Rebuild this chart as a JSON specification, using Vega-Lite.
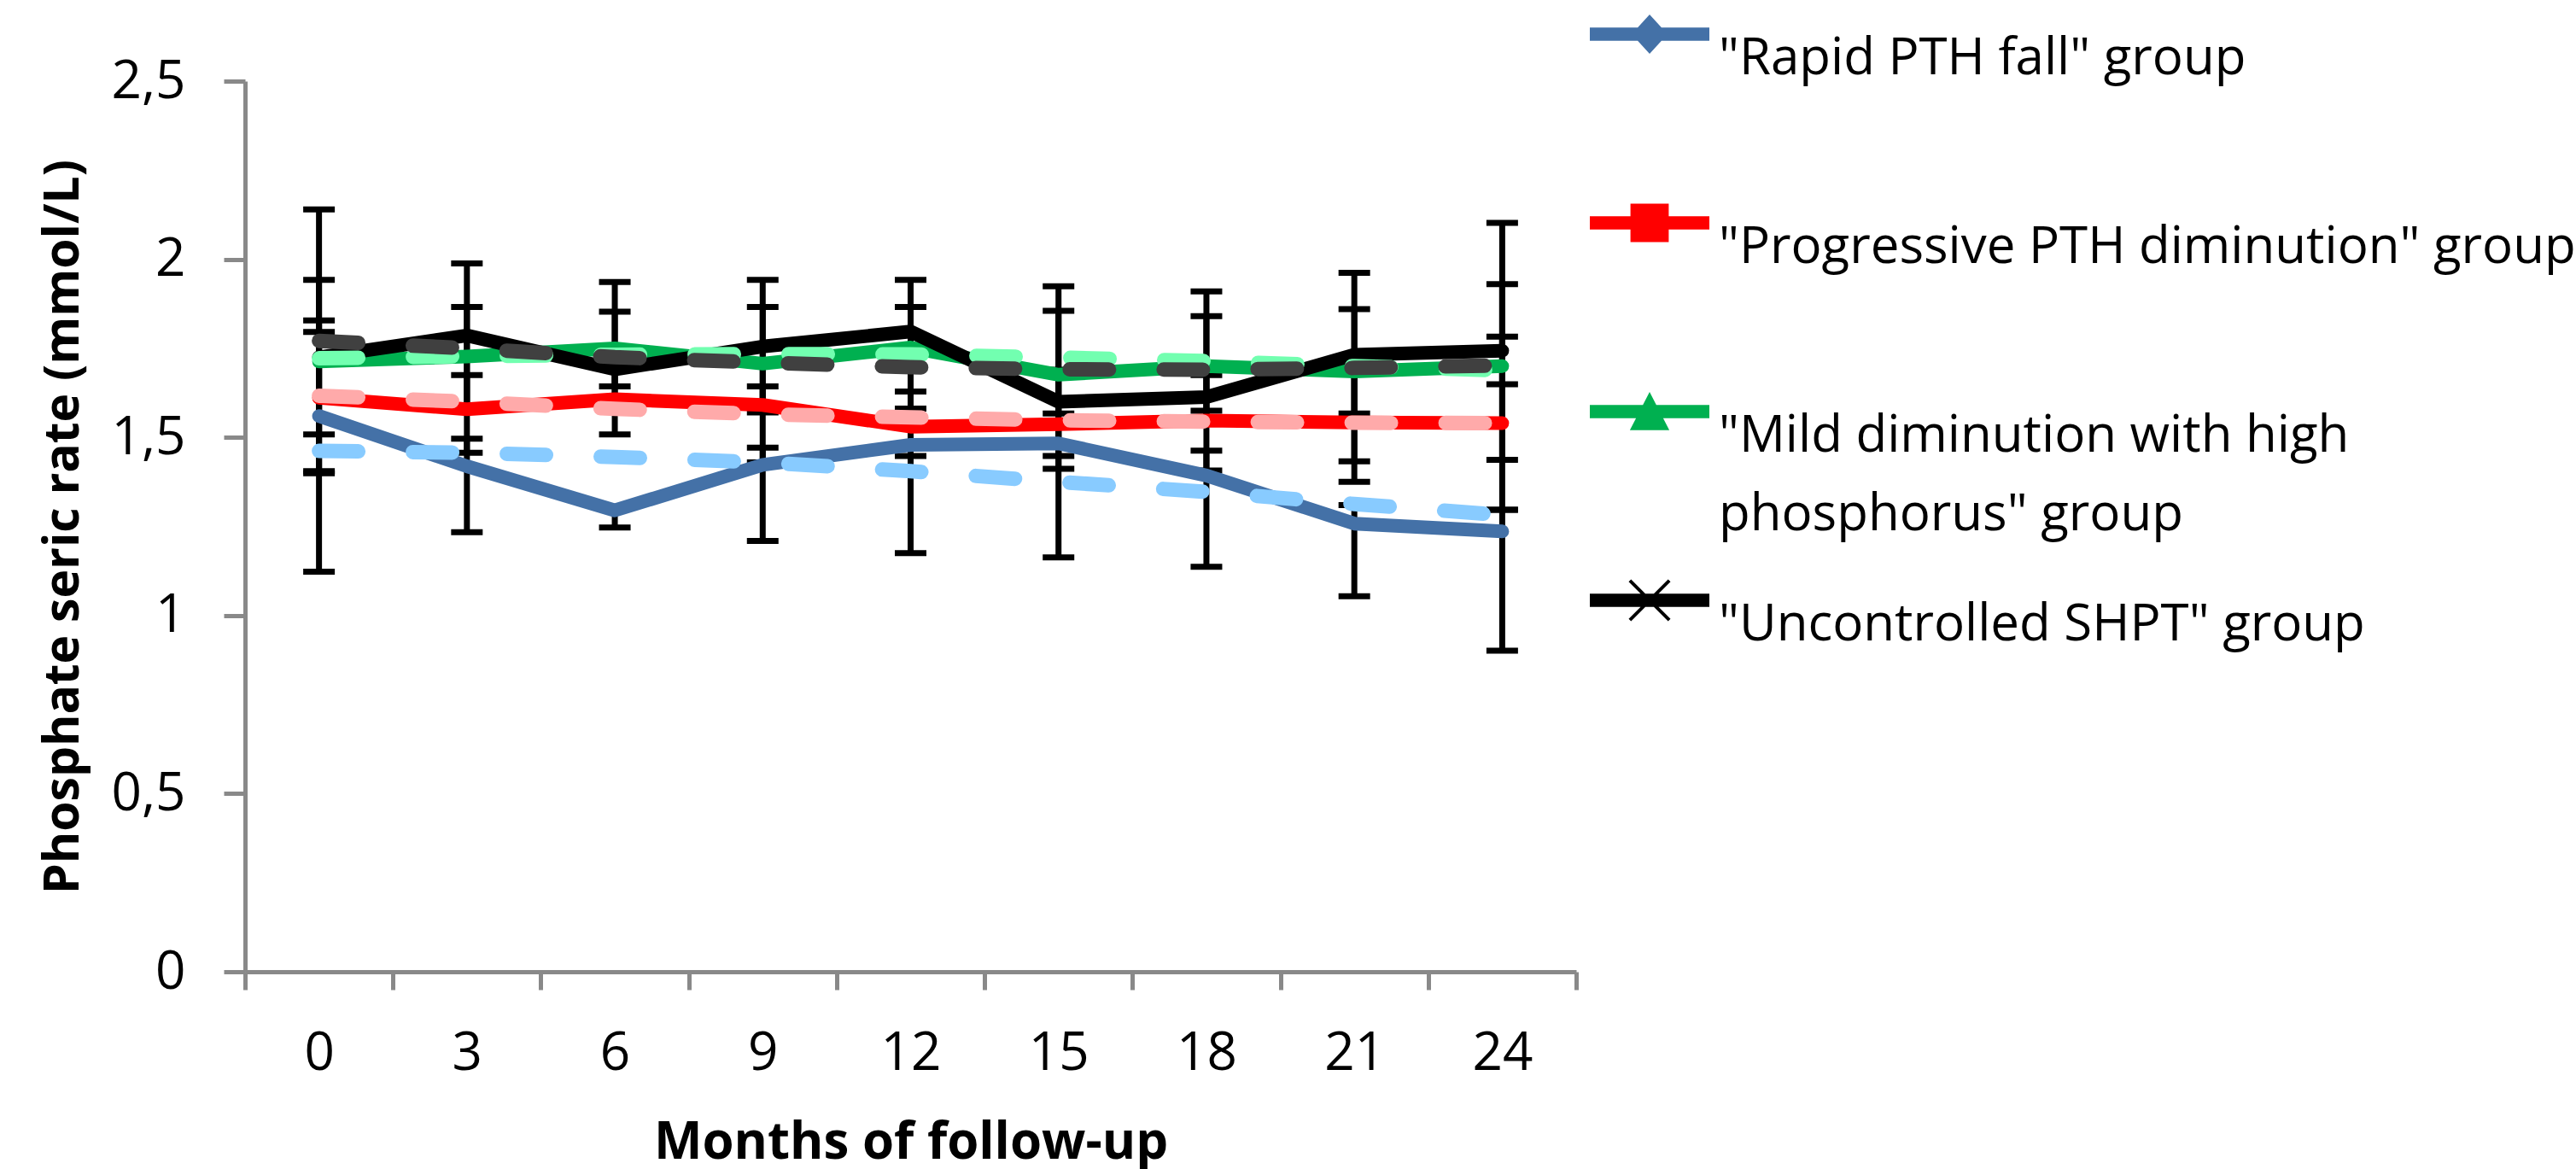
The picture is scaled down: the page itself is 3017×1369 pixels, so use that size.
{
  "$schema": "https://vega.github.io/schema/vega-lite/v6.json",
  "autosize": {"type": "none"},
  "padding": {"left": 287, "top": 95, "right": 1171, "bottom": 231},
  "width": 1559,
  "height": 1043,
  "background": "white",
  "config": {"font": "Open Sans", "view": {"stroke": null}, "style": {"guide-label": {"lineHeight": 92}}},
  "datasets": {
    "means": [
      {"month": 0, "group": "Rapid PTH fall", "value": 1.56},
      {"month": 3, "group": "Rapid PTH fall", "value": 1.419},
      {"month": 6, "group": "Rapid PTH fall", "value": 1.295},
      {"month": 9, "group": "Rapid PTH fall", "value": 1.423},
      {"month": 12, "group": "Rapid PTH fall", "value": 1.479},
      {"month": 15, "group": "Rapid PTH fall", "value": 1.483},
      {"month": 18, "group": "Rapid PTH fall", "value": 1.393},
      {"month": 21, "group": "Rapid PTH fall", "value": 1.258},
      {"month": 24, "group": "Rapid PTH fall", "value": 1.236},
      {"month": 0, "group": "Progressive PTH diminution", "value": 1.611},
      {"month": 3, "group": "Progressive PTH diminution", "value": 1.579},
      {"month": 6, "group": "Progressive PTH diminution", "value": 1.607},
      {"month": 9, "group": "Progressive PTH diminution", "value": 1.591},
      {"month": 12, "group": "Progressive PTH diminution", "value": 1.53},
      {"month": 15, "group": "Progressive PTH diminution", "value": 1.537},
      {"month": 18, "group": "Progressive PTH diminution", "value": 1.547},
      {"month": 21, "group": "Progressive PTH diminution", "value": 1.542},
      {"month": 24, "group": "Progressive PTH diminution", "value": 1.54},
      {"month": 0, "group": "Mild diminution with high phosphorus", "value": 1.713},
      {"month": 3, "group": "Mild diminution with high phosphorus", "value": 1.727},
      {"month": 6, "group": "Mild diminution with high phosphorus", "value": 1.75},
      {"month": 9, "group": "Mild diminution with high phosphorus", "value": 1.707},
      {"month": 12, "group": "Mild diminution with high phosphorus", "value": 1.752},
      {"month": 15, "group": "Mild diminution with high phosphorus", "value": 1.676},
      {"month": 18, "group": "Mild diminution with high phosphorus", "value": 1.7},
      {"month": 21, "group": "Mild diminution with high phosphorus", "value": 1.685},
      {"month": 24, "group": "Mild diminution with high phosphorus", "value": 1.7},
      {"month": 0, "group": "Uncontrolled SHPT", "value": 1.725},
      {"month": 3, "group": "Uncontrolled SHPT", "value": 1.786},
      {"month": 6, "group": "Uncontrolled SHPT", "value": 1.691},
      {"month": 9, "group": "Uncontrolled SHPT", "value": 1.755},
      {"month": 12, "group": "Uncontrolled SHPT", "value": 1.797},
      {"month": 15, "group": "Uncontrolled SHPT", "value": 1.6},
      {"month": 18, "group": "Uncontrolled SHPT", "value": 1.613},
      {"month": 21, "group": "Uncontrolled SHPT", "value": 1.732},
      {"month": 24, "group": "Uncontrolled SHPT", "value": 1.743}
    ],
    "trend": [
      {"month": 0, "group": "Rapid PTH fall", "value": 1.462},
      {"month": 3, "group": "Rapid PTH fall", "value": 1.457},
      {"month": 6, "group": "Rapid PTH fall", "value": 1.445},
      {"month": 9, "group": "Rapid PTH fall", "value": 1.43},
      {"month": 12, "group": "Rapid PTH fall", "value": 1.405},
      {"month": 15, "group": "Rapid PTH fall", "value": 1.375},
      {"month": 18, "group": "Rapid PTH fall", "value": 1.347},
      {"month": 21, "group": "Rapid PTH fall", "value": 1.313},
      {"month": 24, "group": "Rapid PTH fall", "value": 1.282},
      {"month": 0, "group": "Progressive PTH diminution", "value": 1.617},
      {"month": 3, "group": "Progressive PTH diminution", "value": 1.6},
      {"month": 6, "group": "Progressive PTH diminution", "value": 1.58},
      {"month": 9, "group": "Progressive PTH diminution", "value": 1.565},
      {"month": 12, "group": "Progressive PTH diminution", "value": 1.556},
      {"month": 15, "group": "Progressive PTH diminution", "value": 1.548},
      {"month": 18, "group": "Progressive PTH diminution", "value": 1.544},
      {"month": 21, "group": "Progressive PTH diminution", "value": 1.541},
      {"month": 24, "group": "Progressive PTH diminution", "value": 1.54},
      {"month": 0, "group": "Mild diminution with high phosphorus", "value": 1.722},
      {"month": 3, "group": "Mild diminution with high phosphorus", "value": 1.728},
      {"month": 6, "group": "Mild diminution with high phosphorus", "value": 1.732},
      {"month": 9, "group": "Mild diminution with high phosphorus", "value": 1.734},
      {"month": 12, "group": "Mild diminution with high phosphorus", "value": 1.733},
      {"month": 15, "group": "Mild diminution with high phosphorus", "value": 1.724},
      {"month": 18, "group": "Mild diminution with high phosphorus", "value": 1.714},
      {"month": 21, "group": "Mild diminution with high phosphorus", "value": 1.7},
      {"month": 24, "group": "Mild diminution with high phosphorus", "value": 1.688},
      {"month": 0, "group": "Uncontrolled SHPT", "value": 1.771},
      {"month": 3, "group": "Uncontrolled SHPT", "value": 1.75},
      {"month": 6, "group": "Uncontrolled SHPT", "value": 1.725},
      {"month": 9, "group": "Uncontrolled SHPT", "value": 1.71},
      {"month": 12, "group": "Uncontrolled SHPT", "value": 1.697},
      {"month": 15, "group": "Uncontrolled SHPT", "value": 1.691},
      {"month": 18, "group": "Uncontrolled SHPT", "value": 1.69},
      {"month": 21, "group": "Uncontrolled SHPT", "value": 1.695},
      {"month": 24, "group": "Uncontrolled SHPT", "value": 1.702}
    ],
    "err": [
      {"month": 0, "group": "Rapid PTH fall", "lo": 1.123, "hi": 1.796},
      {"month": 0, "group": "Progressive PTH diminution", "lo": 1.399, "hi": 1.828},
      {"month": 0, "group": "Mild diminution with high phosphorus", "lo": 1.508, "hi": 1.942},
      {"month": 0, "group": "Uncontrolled SHPT", "lo": 1.405, "hi": 2.14},
      {"month": 3, "group": "Rapid PTH fall", "lo": 1.234, "hi": 1.496},
      {"month": 3, "group": "Progressive PTH diminution", "lo": 1.457, "hi": 1.675},
      {"month": 3, "group": "Mild diminution with high phosphorus", "lo": 1.59, "hi": 1.866},
      {"month": 3, "group": "Uncontrolled SHPT", "lo": 1.58, "hi": 1.988},
      {"month": 6, "group": "Rapid PTH fall", "lo": 1.247, "hi": 1.3},
      {"month": 6, "group": "Progressive PTH diminution", "lo": 1.508, "hi": 1.7},
      {"month": 6, "group": "Mild diminution with high phosphorus", "lo": 1.6, "hi": 1.936},
      {"month": 6, "group": "Uncontrolled SHPT", "lo": 1.643, "hi": 1.853},
      {"month": 9, "group": "Rapid PTH fall", "lo": 1.209, "hi": 1.471},
      {"month": 9, "group": "Progressive PTH diminution", "lo": 1.43, "hi": 1.643},
      {"month": 9, "group": "Mild diminution with high phosphorus", "lo": 1.59, "hi": 1.866},
      {"month": 9, "group": "Uncontrolled SHPT", "lo": 1.57, "hi": 1.942},
      {"month": 12, "group": "Rapid PTH fall", "lo": 1.175, "hi": 1.53},
      {"month": 12, "group": "Progressive PTH diminution", "lo": 1.448, "hi": 1.629},
      {"month": 12, "group": "Mild diminution with high phosphorus", "lo": 1.581, "hi": 1.866},
      {"month": 12, "group": "Uncontrolled SHPT", "lo": 1.7, "hi": 1.942},
      {"month": 15, "group": "Rapid PTH fall", "lo": 1.163, "hi": 1.54},
      {"month": 15, "group": "Progressive PTH diminution", "lo": 1.412, "hi": 1.69},
      {"month": 15, "group": "Mild diminution with high phosphorus", "lo": 1.448, "hi": 1.855},
      {"month": 15, "group": "Uncontrolled SHPT", "lo": 1.567, "hi": 1.924},
      {"month": 18, "group": "Rapid PTH fall", "lo": 1.137, "hi": 1.463},
      {"month": 18, "group": "Progressive PTH diminution", "lo": 1.407, "hi": 1.675},
      {"month": 18, "group": "Mild diminution with high phosphorus", "lo": 1.575, "hi": 1.84},
      {"month": 18, "group": "Uncontrolled SHPT", "lo": 1.55, "hi": 1.91},
      {"month": 21, "group": "Rapid PTH fall", "lo": 1.054, "hi": 1.31},
      {"month": 21, "group": "Progressive PTH diminution", "lo": 1.375, "hi": 1.7},
      {"month": 21, "group": "Mild diminution with high phosphorus", "lo": 1.433, "hi": 1.86},
      {"month": 21, "group": "Uncontrolled SHPT", "lo": 1.567, "hi": 1.962},
      {"month": 24, "group": "Rapid PTH fall", "lo": 0.901, "hi": 1.297},
      {"month": 24, "group": "Progressive PTH diminution", "lo": 1.297, "hi": 1.783},
      {"month": 24, "group": "Mild diminution with high phosphorus", "lo": 1.437, "hi": 1.93},
      {"month": 24, "group": "Uncontrolled SHPT", "lo": 1.649, "hi": 2.102}
    ]
  },
  "encoding": {
    "x": {
      "field": "month",
      "type": "ordinal",
      "scale": {"type": "band", "domain": [0, 3, 6, 9, 12, 15, 18, 21, 24], "paddingInner": 0, "paddingOuter": 0},
      "axis": {
        "title": "Months of follow-up",
        "labelAngle": 0,
        "tickBand": "extent",
        "tickSize": 21,
        "tickWidth": 5,
        "tickColor": "#898989",
        "domainColor": "#898989",
        "domainWidth": 5,
        "labelFontSize": 62,
        "labelColor": "#000000",
        "labelPadding": 44,
        "titleFontSize": 60,
        "titleFontWeight": "bold",
        "titleColor": "#000000",
        "titlePadding": 45,
        "grid": false
      }
    }
  },
  "layer": [
    {
      "data": {"name": "err"},
      "mark": {"type": "rule", "color": "#000000", "strokeWidth": 7},
      "encoding": {
        "y": {
          "field": "lo",
          "type": "quantitative",
          "scale": {"domain": [0, 2.5], "nice": false},
          "axis": {
            "title": "Phosphate seric rate (mmol/L)",
            "values": [0, 0.5, 1, 1.5, 2, 2.5],
            "labelExpr": "replace(format(datum.value, '.1~f'), '.', ',')",
            "tickSize": 25,
            "tickWidth": 5,
            "tickColor": "#898989",
            "domainColor": "#898989",
            "domainWidth": 5,
            "labelFontSize": 62,
            "labelColor": "#000000",
            "labelPadding": 45,
            "titleFontSize": 57,
            "titleFontWeight": "bold",
            "titleColor": "#000000",
            "titlePadding": 27,
            "grid": false
          }
        },
        "y2": {"field": "hi"}
      }
    },
    {
      "data": {"name": "err"},
      "mark": {"type": "tick", "color": "#000000", "thickness": 7, "size": 37, "opacity": 1},
      "encoding": {"y": {"field": "lo", "type": "quantitative"}}
    },
    {
      "data": {"name": "err"},
      "mark": {"type": "tick", "color": "#000000", "thickness": 7, "size": 37, "opacity": 1},
      "encoding": {"y": {"field": "hi", "type": "quantitative"}}
    },
    {
      "data": {"name": "means"},
      "mark": {"type": "line", "strokeWidth": 16, "strokeJoin": "round", "strokeCap": "round"},
      "encoding": {
        "y": {"field": "value", "type": "quantitative"},
        "stroke": {
          "field": "group",
          "type": "nominal",
          "scale": {"domain": ["Rapid PTH fall", "Progressive PTH diminution", "Mild diminution with high phosphorus", "Uncontrolled SHPT"], "range": ["#4471A7", "#FF0000", "#00B050", "#000000"]},
          "legend": null
        }
      }
    },
    {
      "data": {"name": "trend"},
      "mark": {"type": "line", "strokeWidth": 17, "strokeDash": [46, 64], "strokeCap": "round", "strokeJoin": "round"},
      "encoding": {
        "y": {"field": "value", "type": "quantitative"},
        "stroke": {
          "field": "group",
          "type": "nominal",
          "scale": {"domain": ["Rapid PTH fall", "Progressive PTH diminution", "Mild diminution with high phosphorus", "Uncontrolled SHPT"], "range": ["#88CBFF", "#FFAAAA", "#72FFB0", "#404040"]},
          "legend": null
        }
      }
    },
    {
      "data": {"name": "means"},
      "mark": {"type": "point", "filled": true, "size": 0, "opacity": 1, "strokeWidth": 0},
      "encoding": {
        "y": {"field": "value", "type": "quantitative"},
        "color": {
          "field": "group",
          "type": "nominal",
          "scale": {"domain": ["Rapid PTH fall", "Progressive PTH diminution", "Mild diminution with high phosphorus", "Uncontrolled SHPT"], "range": ["#4471A7", "#FF0000", "#00B050", "#000000"]},
          "legend": {
            "title": null,
            "orient": "none",
            "legendX": 1575,
            "legendY": -125,
            "padding": 0,
            "symbolSize": 19600,
            "symbolStrokeWidth": 0,
            "labelFont": "Open Sans",
            "labelFontSize": 60,
            "labelColor": "#000000",
            "labelLimit": 1400,
            "labelOffset": 11,
            "labelBaseline": "top",
            "rowPadding": 0,
            "gridAlign": "all",
            "labelExpr": "datum.label == 'Mild diminution with high phosphorus' ? ['\"Mild diminution with high', 'phosphorus\" group'] : '\"' + datum.label + '\" group'",
            "encode": {"labels": {"dy": {"value": -26}, "lineHeight": {"value": 92}}}
          }
        },
        "shape": {
          "field": "group",
          "type": "nominal",
          "scale": {"domain": ["Rapid PTH fall", "Progressive PTH diminution", "Mild diminution with high phosphorus", "Uncontrolled SHPT"], "range": [
            "M-1,-0.11H1V0.11H-1Z M0,-0.33L0.3,0L0,0.33L-0.3,0Z",
            "M-1,-0.11H1V0.11H-1Z M-0.32,-0.32H0.32V0.32H-0.32Z",
            "M-1,-0.11H1V0.11H-1Z M0,-0.33L0.33,0.31L-0.33,0.31Z",
            "M-1,-0.11H1V0.11H-1Z M-0.35,-0.31L-0.31,-0.35L0.35,0.31L0.31,0.35Z M0.31,-0.35L0.35,-0.31L-0.31,0.35L-0.35,0.31Z"
          ]},
          "legend": {
            "title": null,
            "orient": "none",
            "legendX": 1575,
            "legendY": -125,
            "padding": 0,
            "symbolSize": 19600,
            "symbolStrokeWidth": 0,
            "labelFont": "Open Sans",
            "labelFontSize": 60,
            "labelColor": "#000000",
            "labelLimit": 1400,
            "labelOffset": 11,
            "labelBaseline": "top",
            "rowPadding": 0,
            "gridAlign": "all",
            "labelExpr": "datum.label == 'Mild diminution with high phosphorus' ? ['\"Mild diminution with high', 'phosphorus\" group'] : '\"' + datum.label + '\" group'",
            "encode": {"labels": {"dy": {"value": -26}, "lineHeight": {"value": 92}}}
          }
        }
      }
    }
  ],
  "resolve": {"scale": {"stroke": "independent"}}
}
